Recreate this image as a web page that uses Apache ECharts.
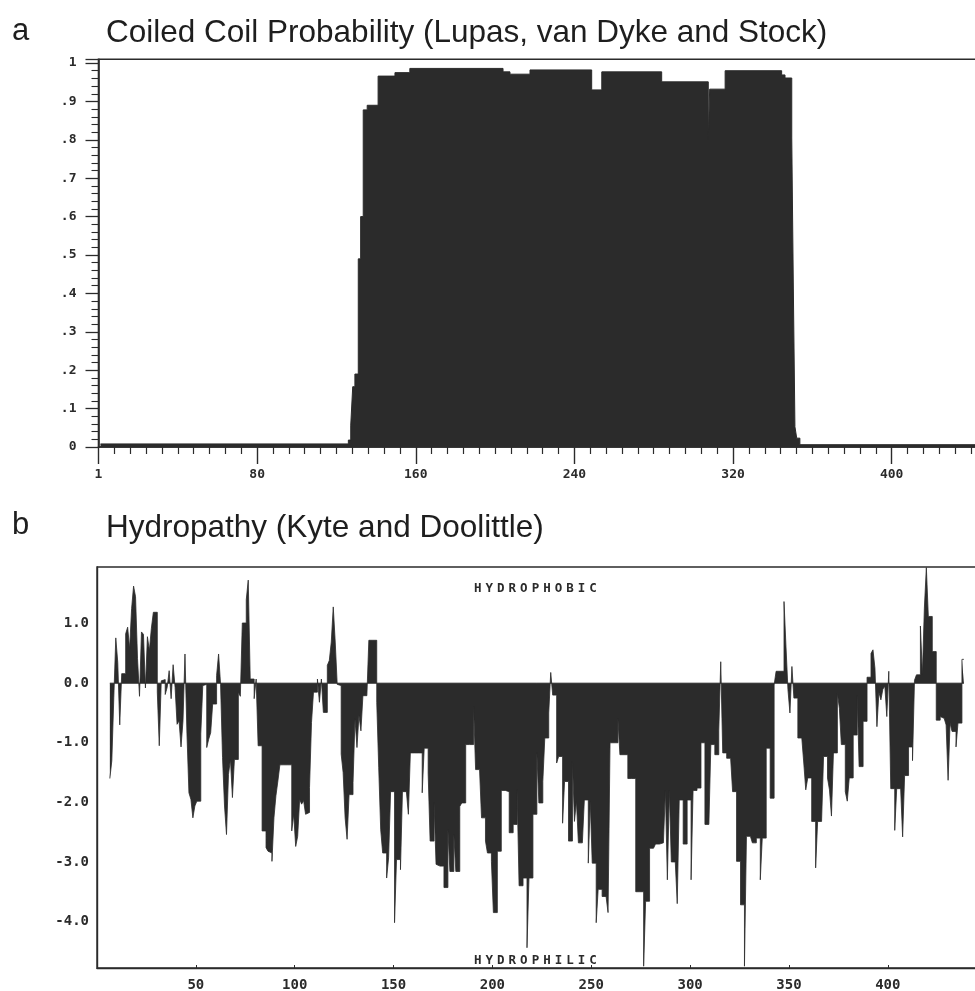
<!DOCTYPE html>
<html>
<head>
<meta charset="utf-8">
<script src="https://cdn.jsdelivr.net/npm/echarts@6/dist/echarts.min.js"></script>
<style>
html,body{margin:0;padding:0;background:#fff;}
#chart{width:975px;height:991px;}
</style>
</head>
<body>
<div id="chart"></div>
<script>
// ---------- Panel a: coiled coil probability (step breakpoints: residue, probability held until next) ----------
const coilResidue = [1, 126, 127.2, 128.2, 129.3, 131, 132.2, 133.5, 135.5, 141, 149.5, 157, 204, 207.5, 217.6, 248.7, 253.8, 284, 307.5, 308.2, 316, 344.5, 346.2, 349.6, 350.4, 351.2, 352.1, 353.7, 480];
const coilProb    = [0.008, 0.018, 0.057, 0.157, 0.19, 0.49, 0.60, 0.878, 0.89, 0.966, 0.975, 0.986, 0.977, 0.971, 0.982, 0.93, 0.977, 0.951, 0.80, 0.932, 0.98, 0.969, 0.961, 0.805, 0.414, 0.053, 0.023, 0.006, 0.006];
const coilXTicks = [1, 80, 160, 240, 320, 400];
const coilYTicks = ['0', '.1', '.2', '.3', '.4', '.5', '.6', '.7', '.8', '.9', '1'];

// ---------- Panel b: Kyte-Doolittle hydropathy, one value per residue (index 0 = residue 1) ----------
const hydropathy = [
  null,null,null,null,null,null,-1.6,-1.3,-0.24,0.76,
  0.35,-0.7,0.16,0.16,0.83,0.94,0.58,1.25,1.63,1.45,
  0.41,-0.22,0.86,0.82,-0.08,0.78,0.55,0.92,1.19,1.19,
  -0.15,-1.05,0.04,0.06,-0.19,-0.07,0.21,-0.26,0.31,-0.07,
  -0.69,-0.63,-1.07,-0.63,0.49,-0.85,-1.84,-1.95,-2.26,-2.06,
  -1.98,-1.98,-0.85,-0.04,-0.02,-1.08,-0.94,-0.83,-0.35,-0.35,
  0.13,0.49,-0.02,-1.25,-2.06,-2.54,-1.53,-1.28,-1.92,-1.28,
  -1.28,-0.15,-0.22,1.01,1.01,1.40,1.73,0.07,0.07,-0.26,
  0.07,-1.05,-1.05,-2.48,-2.48,-2.76,-2.82,-2.85,-2.99,-2.26,
  -1.89,-1.64,-1.37,-1.37,-1.37,-1.37,-1.37,-1.37,-2.48,-2.2,
  -2.74,-2.57,-1.95,-2.03,-1.97,-2.2,-2.17,-1.75,-0.66,-0.15,
  -0.15,0.07,-0.32,0.07,-0.49,-0.49,0.30,0.38,0.69,1.28,
  0.69,-0.02,-0.04,-1.19,-1.5,-2.26,-2.62,-1.87,-1.87,-1.67,
  -0.6,-1.08,-0.54,-0.8,-0.21,-0.21,-0.21,0.72,0.72,0.72,
  0.72,-0.32,-1.42,-2.46,-2.85,-2.85,-3.27,-2.93,-1.82,-1.82,
  -4.02,-2.96,-2.96,-3.13,-1.82,-1.82,-1.82,-2.2,-1.17,-1.17,
  -1.17,-1.17,-1.17,-1.17,-1.84,-1.09,-1.09,-1.51,-2.65,-2.65,
  -2.01,-3.04,-3.07,-3.07,-3.07,-3.43,-3.43,-2.46,-3.16,-3.16,
  -2.54,-3.16,-3.16,-2.07,-2.01,-2.01,-1.03,-1.03,-1.03,-1.03,
  -0.39,-1.45,-1.45,-1.45,-2.26,-2.26,-2.65,-2.85,-2.85,-2.99,
  -3.85,-3.85,-2.82,-2.82,-1.8,-1.8,-1.82,-1.82,-2.51,-2.51,
  -2.37,-2.37,-1.79,-3.4,-3.4,-3.27,-3.27,-4.44,-3.27,-3.27,
  -2.2,-2.2,-1.17,-2.01,-2.01,-1.65,-0.92,-0.92,-0.5,0.18,
  -0.2,-0.2,-1.34,-1.23,-1.23,-2.35,-1.65,-1.65,-2.65,-2.65,
  -1.31,-2.32,-1.98,-2.68,-2.68,-2.68,-1.96,-1.96,-3.02,-1.98,
  -3.02,-3.02,-4.02,-3.46,-3.46,-3.58,-3.58,-3.58,-3.85,-1.0,
  -1.0,-1.0,-1.0,-0.6,-1.2,-1.2,-1.2,-1.2,-1.6,-1.6,
  -1.6,-1.6,-3.5,-3.5,-3.5,-3.5,-4.75,-3.66,-3.66,-2.77,
  -2.77,-2.77,-2.7,-2.7,-2.7,-2.68,-2.68,-1.8,-3.3,-1.8,
  -3.0,-3.0,-3.0,-3.7,-1.96,-1.96,-2.7,-2.7,-1.96,-1.96,
  -3.3,-1.8,-1.8,-1.76,-1.76,-1.0,-1.0,-2.37,-2.37,-2.37,
  -1.03,-1.03,-1.2,-1.2,-0.8,0.36,-1.17,-1.17,-1.26,-1.26,
  -1.26,-1.82,-1.82,-2.99,-2.99,-3.72,-3.72,-4.75,-2.57,-2.57,
  -2.57,-2.68,-2.68,-2.6,-2.6,-3.3,-2.6,-2.6,-1.09,-1.09,
  -1.93,-1.93,-0.03,0.2,0.2,0.2,0.2,1.37,0.61,-0.11,
  -0.5,0.28,-0.25,-0.25,-0.92,-0.92,-0.92,-1.34,-1.79,-1.59,
  -1.59,-2.32,-2.32,-3.1,-2.32,-2.32,-2.32,-1.23,-1.23,-1.59,
  -1.79,-2.23,-1.17,-1.17,-0.17,-0.42,-1.03,-1.03,-1.82,-1.98,
  -1.59,-1.59,-0.87,-0.87,-0.2,-1.4,-1.4,-0.64,-0.64,0.1,
  0.1,0.5,0.56,0.25,-0.73,-0.15,-0.28,-0.1,-0.05,-0.56,
  0.2,-1.77,-1.77,-2.47,-1.77,-1.77,-1.77,-2.58,-1.55,-1.55,
  -1.07,-1.07,-1.3,0.05,0.14,0.14,0.96,0.14,1.26,1.94,
  1.12,1.12,0.53,0.53,-0.62,-0.62,-0.56,-0.59,-0.59,-0.7,
  -1.63,-0.67,-0.81,-0.81,-1.07,-0.67,-0.67,0.4
];
const hydroXTicks = [50, 100, 150, 200, 250, 300, 350, 400];
const hydroYTicks = [-4, -3, -2, -1, 0, 1];

// ---------- build ----------
const ink = '#2b2b2b';
const mono = '"DejaVu Sans Mono", "Liberation Mono", monospace';
const sans = '"Liberation Sans", Arial, sans-serif';

const coilData = coilResidue.map((r, i) => [r, coilProb[i]]);

// each residue occupies one residue-wide flat segment centred on its number (one seamless filled outline)
const hydroStep = [];
let firstRes = null, lastRes = null;
hydropathy.forEach((v, i) => {
  if (v === null) return;
  const r = i + 1;
  if (firstRes === null) firstRes = r;
  lastRes = r;
  hydroStep.push([r - 0.5, v], [r + 0.5, v]);
});
const zeroData = [[firstRes - 0.5, 0], [lastRes + 0.5, 0]];

function spaced(word) {
  return word.split('').map(ch => '{c|' + ch + '}').join('');
}

const chart = echarts.init(document.getElementById('chart'), null, {renderer: 'canvas'});
chart.setOption({
  backgroundColor: '#ffffff',
  animation: false,
  title: [
    {text: 'a', left: 7, top: 11, textStyle: {fontFamily: sans, fontSize: 31, fontWeight: 'normal', color: '#1e1e1e'}},
    {text: 'Coiled Coil Probability (Lupas, van Dyke and Stock)', left: 101, top: 12, textStyle: {fontFamily: sans, fontSize: 31.5, fontWeight: 'normal', color: '#1e1e1e'}},
    {text: 'b', left: 7, top: 505, textStyle: {fontFamily: sans, fontSize: 31, fontWeight: 'normal', color: '#1e1e1e'}},
    {text: 'Hydropathy (Kyte and Doolittle)', left: 101, top: 507, textStyle: {fontFamily: sans, fontSize: 31.5, fontWeight: 'normal', color: '#1e1e1e'}},
    {text: spaced('HYDROPHOBIC'), left: 467, top: 577, textStyle: {rich: {c: {fontFamily: mono, fontWeight: 'bold', fontSize: 12.5, color: ink, padding: [0, 2, 0, 2]}}}},
    {text: spaced('HYDROPHILIC'), left: 467, top: 949, textStyle: {rich: {c: {fontFamily: mono, fontWeight: 'bold', fontSize: 12.5, color: ink, padding: [0, 2, 0, 2]}}}}
  ],
  grid: [
    {left: 98.5, top: 59.2, width: 1.983 * 480, height: 387.8, show: true, borderColor: ink, borderWidth: 1.6,
     backgroundColor: 'transparent', containLabel: false, outerBoundsMode: 'none'},
    {left: 97, top: 567, width: 1.977 * 460, height: 401, show: true, borderColor: ink, borderWidth: 1.4,
     backgroundColor: 'transparent', containLabel: false, outerBoundsMode: 'none'}
  ],
  xAxis: [
    {
      gridIndex: 0, type: 'value', min: 0, max: 480, interval: 80,
      axisLine: {show: true, onZero: false, lineStyle: {color: ink, width: 1.6}},
      axisTick: {show: true, length: 17, lineStyle: {color: ink, width: 1.4}},
      minorTick: {show: true, splitNumber: 10, length: 7, lineStyle: {color: ink, width: 1.2}},
      axisLabel: {margin: 21, fontFamily: mono, fontWeight: 'bold', fontSize: 13, color: ink,
        formatter: v => (v === 0 ? String(coilXTicks[0]) : (coilXTicks.indexOf(v) >= 0 ? String(v) : ''))},
      splitLine: {show: false}
    },
    {
      gridIndex: 1, type: 'value', min: 0, max: 460, interval: 50,
      axisLine: {show: true, onZero: false, lineStyle: {color: ink, width: 1.4}},
      axisTick: {show: true, inside: true, length: 3, lineStyle: {color: ink, width: 1}},
      axisLabel: {margin: 10, fontFamily: mono, fontWeight: 'bold', fontSize: 14, color: ink,
        formatter: v => (hydroXTicks.indexOf(v) >= 0 ? String(v) : '')},
      splitLine: {show: false}
    }
  ],
  yAxis: [
    {
      gridIndex: 0, type: 'value', min: 0, max: 1.01, interval: 0.1,
      axisLine: {show: true, lineStyle: {color: ink, width: 1.6}},
      axisTick: {show: true, length: 13, lineStyle: {color: ink, width: 1.3}},
      minorTick: {show: true, splitNumber: 5, length: 7, lineStyle: {color: ink, width: 1.1}},
      axisLabel: {margin: 22, fontFamily: mono, fontWeight: 'bold', fontSize: 13, color: ink,
        formatter: v => { const t = Math.round(v * 10); return Math.abs(v * 10 - t) > 1e-6 ? '' : coilYTicks[t]; }},
      splitLine: {show: false}
    },
    {
      gridIndex: 1, type: 'value', min: -4.78, max: 1.95,
      axisLine: {show: true, lineStyle: {color: ink, width: 1.4}},
      axisTick: {show: false},
      axisLabel: {margin: 8, fontFamily: mono, fontWeight: 'bold', fontSize: 14, color: ink,
        customValues: hydroYTicks, formatter: v => v.toFixed(1)},
      splitLine: {show: false}
    }
  ],
  series: [
    {
      name: 'Coiled coil', type: 'line', xAxisIndex: 0, yAxisIndex: 0, step: 'end',
      data: coilData, symbol: 'none', lineStyle: {color: ink, width: 1},
      areaStyle: {color: ink, opacity: 1}, clip: true
    },
    {
      name: 'baseline', type: 'line', xAxisIndex: 1, yAxisIndex: 1, data: zeroData,
      symbol: 'none', lineStyle: {color: ink, width: 1}, silent: true
    },
    {
      name: 'Hydropathy', type: 'line', xAxisIndex: 1, yAxisIndex: 1,
      data: hydroStep, symbol: 'none', showSymbol: false, lineStyle: {color: ink, width: 0.8},
      areaStyle: {color: ink, opacity: 1, origin: 0}, clip: true
    }
  ]
});
</script>
</body>
</html>
